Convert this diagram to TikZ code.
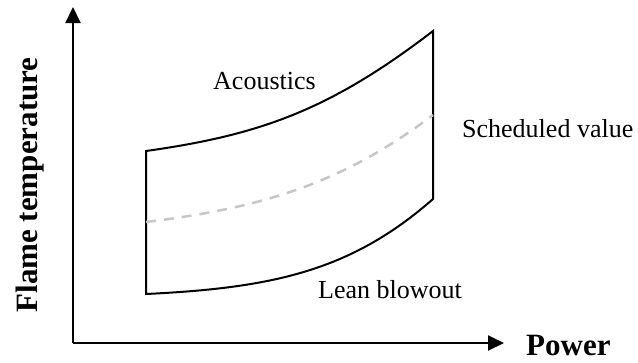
\documentclass[tikz,border=0pt]{standalone}
\usepackage{fontspec}
\setmainfont{Liberation Serif}
\usetikzlibrary{arrows.meta}
\begin{document}
\begin{tikzpicture}[x=1pt,y=-1pt,
  axis/.style={line width=2pt,-{Triangle[length=16pt,width=15pt]}},
  bound/.style={line width=2pt,line join=miter},
  sched/.style={line width=2.5pt,color=black!22,dash pattern=on 10pt off 8pt},
  lab/.style={inner sep=0pt,font=\fontsize{26}{30}\selectfont},
  axlab/.style={inner sep=0pt,font=\fontsize{31}{34}\selectfont\bfseries}]
\useasboundingbox (0,0) rectangle (638,362);
\coordinate (O) at (73,343);
\coordinate (ytip) at (73,7);
\coordinate (xtip) at (504,343);
\draw[axis] (O) -- (ytip);
\draw[axis] (O) -- (xtip);
\coordinate (tl) at (146,151);
\coordinate (bl) at (146,294);
\coordinate (tr) at (433,31);
\coordinate (br) at (433,199);
\coordinate (sl) at (146,222);
\coordinate (sr) at (433,115);
\draw[bound] (bl) -- (tl) .. controls (260,135) and (330,110) .. (tr) -- (br)
  .. controls (350,272) and (270,288) .. (bl) -- cycle;
\draw[sched] (sl) .. controls (260,208) and (340,185) .. (sr);
\node[lab,anchor=base west] (ac) at (213,89) {Acoustics};
\node[lab,anchor=base west] (sv) at (462,137) {Scheduled value};
\node[lab,anchor=base west] (lb) at (318,298) {Lean blowout};
\node[axlab,anchor=base west] (pw) at (526,355) {Power};
\node[axlab,anchor=base,rotate=90] (ft) at (37,185) {Flame temperature};
\end{tikzpicture}
\end{document}
